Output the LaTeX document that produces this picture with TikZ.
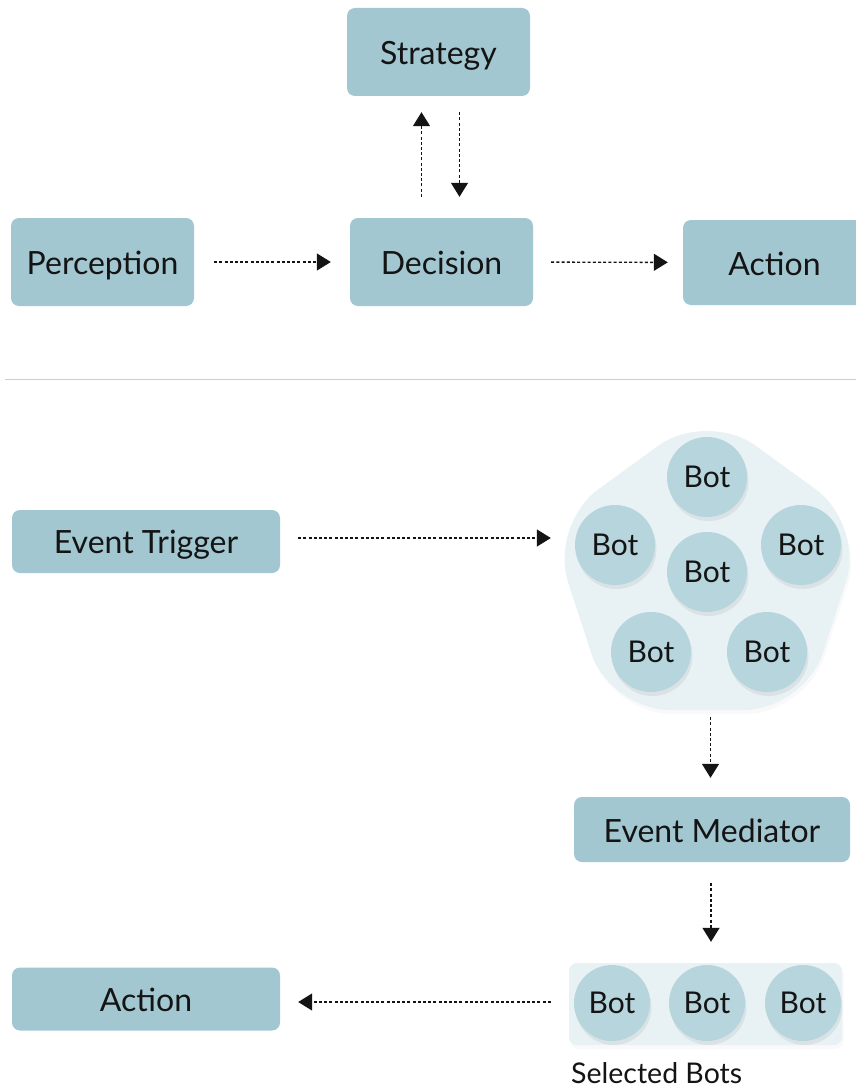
\documentclass[tikz,border=0pt]{standalone}
\usepackage{fontspec}
\setmainfont{Lato}
\usetikzlibrary{arrows.meta,calc}
\definecolor{boxfill}{HTML}{A2C7D1}
\definecolor{botfill}{HTML}{B7D5DD}
\definecolor{groupfill}{HTML}{E8F1F4}
\definecolor{ink}{HTML}{141414}
\definecolor{rule}{HTML}{CFCFCF}
\tikzset{
  stagebox/.style={draw=none, fill=boxfill, rounded corners=8pt, inner sep=0pt,
    minimum width=183pt, minimum height=88pt, text=ink,
    text height=25pt, text depth=0pt,
    font=\fontsize{32}{38}\selectfont},
  widebox/.style={stagebox, minimum width=268pt, minimum height=63pt},
  dropshade/.style={preaction={fill=black, fill opacity=#1,
      transform canvas={xshift=1.5pt, yshift=-4pt}}},
  bot/.style={circle, fill=botfill, inner sep=0pt, minimum size=80pt, text=ink,
    text height=21pt, text depth=0pt,
    font=\fontsize{30}{36}\selectfont, dropshade=0.06},
  smallbot/.style={bot, minimum size=76pt},
  flow/.style={draw=ink, line width=1.4pt, dash pattern=on 3pt off 2.2pt,
    -{Triangle[length=14pt,width=17pt]}},
}
\begin{document}
\begin{tikzpicture}[x=1pt, y=-1pt]
\useasboundingbox (0,0) rectangle (856,1089);
\fill[white] (0,0) rectangle (856,1089);

% ---- agent loop ----
\node[stagebox] (strat) at (438.5,52) {Strategy};
\node[stagebox] (perc)  at (102.5,262) {Perception};
\node[stagebox] (dec)   at (441.5,262) {Decision};
\node[stagebox, minimum height=85pt] (act1) at (774.5,262.5) {Action};

\draw[flow, shorten <=20pt, shorten >=19pt] (perc) -- (dec);
\draw[flow, shorten <=18pt, shorten >=15pt] (dec) -- (act1);
\draw[flow, shorten <=21pt, shorten >=16pt]
  ([xshift=-20pt]dec.north) -- ([xshift=-20pt]dec.north |- strat.south);
\draw[flow, shorten <=16pt, shorten >=21pt]
  ([xshift=18pt]dec.north |- strat.south) -- ([xshift=18pt]dec.north);

% ---- divider ----
\draw[rule, line width=1pt] (5,379) -- (856,379);

% ---- event flow ----
\node[widebox, text height=23pt] (trig) at (146,541.5) {Event Trigger};

\node[inner sep=0pt, minimum width=287pt, minimum height=280pt] (swarm) at (706.5,570) {};
\fill[groupfill, rounded corners=60pt, dropshade=0.025]
  (707,410.4) -- (864.5,524.8) -- (804.3,710) -- (609.7,710) -- (549.5,524.8) -- cycle;

\node[bot] (b1) at (707,477) {Bot};
\node[bot] (b2) at (615,545) {Bot};
\node[bot] (b3) at (801,545) {Bot};
\node[bot] (b4) at (707,572) {Bot};
\node[bot] (b5) at (651,652) {Bot};
\node[bot] (b6) at (767,652) {Bot};

\node[widebox, minimum width=276pt, minimum height=65pt] (med) at (712,829.5) {Event Mediator};

\node[fill=groupfill, rounded corners=8pt, inner sep=0pt, minimum width=273pt,
  minimum height=82pt, dropshade=0.025] (sel) at (705.5,1004) {};
\node[smallbot] (s1) at (612,1003) {Bot};
\node[smallbot] (s2) at (707,1003) {Bot};
\node[smallbot] (s3) at (803,1003) {Bot};
\node[anchor=base west, inner sep=0pt, text=ink, font=\fontsize{28.5}{34}\selectfont]
  (sellab) at (571,1083) {Selected Bots};

\node[widebox] (act2) at (146,999) {Action};

\draw[flow, shorten <=18pt, shorten >=12pt]
  ([yshift=3.5pt]trig.east) -- ([yshift=3.5pt]trig.east -| swarm.west);
\draw[flow, shorten <=7pt, shorten >=19pt]
  ([xshift=4pt]swarm.south) -- ([xshift=4pt]swarm.south |- med.north);
\draw[flow, shorten <=21pt, shorten >=21pt]
  ([xshift=-1pt]med.south) -- ([xshift=-1pt]med.south |- sel.north);
\draw[flow, shorten <=18pt, shorten >=18pt]
  ([yshift=2pt]sel.west) -- ([yshift=2pt]sel.west -| act2.east);
\end{tikzpicture}
\end{document}
